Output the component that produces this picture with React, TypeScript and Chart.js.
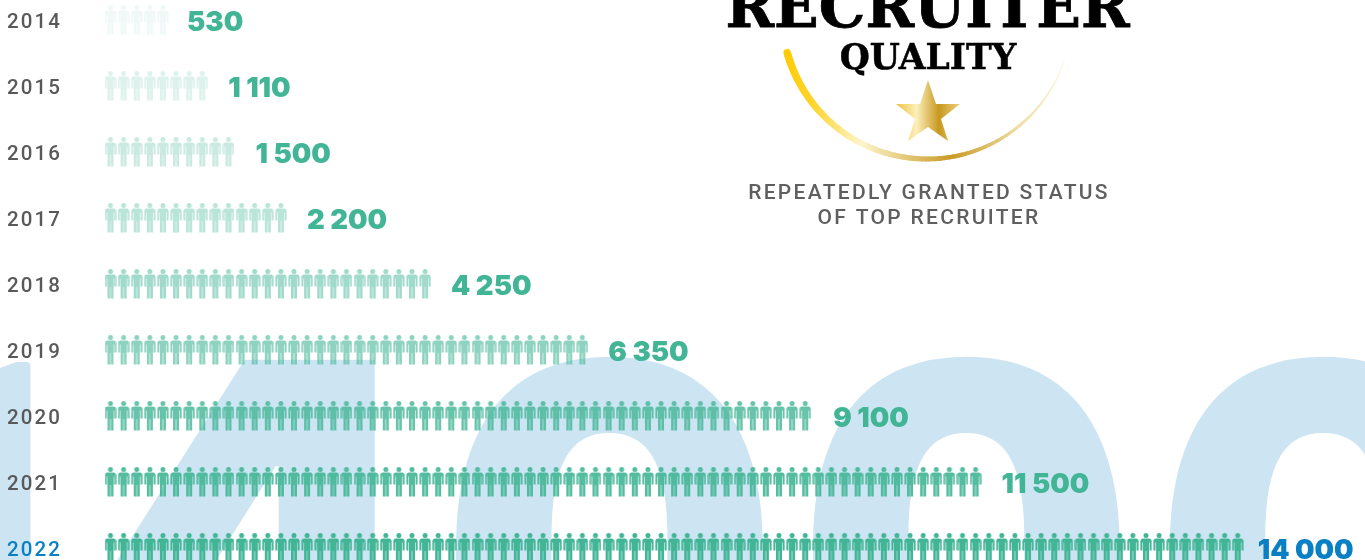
import React, { useEffect, useRef } from "react";
import { Chart, registerables } from "chart.js";

Chart.register(...registerables);

const years = ["2014", "2015", "2016", "2017", "2018", "2019", "2020", "2021", "2022"];
const hires = [530, 1110, 1500, 2200, 4250, 6350, 9100, 11500, 14000];
const iconCounts = [5, 8, 10, 14, 25, 37, 54, 67, 87];
const rowAlpha = [0.08, 0.18, 0.28, 0.37, 0.5, 0.6, 0.8, 0.9, 1];
const labelGaps = [18, 20, 21, 20, 20, 20, 22, 20, 14];

const GREEN = "65,181,149";
const BLUE = "#0a80c4";
const GREY = "#595959";
const WASH = "#cde5f3";

function personIcon(color: string): HTMLCanvasElement {
  const c = document.createElement("canvas");
  c.width = 12;
  c.height = 35; // icon sits in the top 30px, so it centres 2.5px above the row
  const g = c.getContext("2d")!;
  g.fillStyle = color;
  g.beginPath();
  g.arc(6, 2.6, 2.5, 0, Math.PI * 2);
  g.moveTo(6, 5);
  g.roundRect(0.4, 5.4, 11.2, 4, [2.6, 2.6, 0, 0]);
  g.rect(3, 9, 6, 9);
  g.roundRect(0.4, 9, 2, 8.6, [0, 0, 0.4, 0.4]);
  g.roundRect(9.6, 9, 2, 8.6, [0, 0, 0.4, 0.4]);
  g.rect(3, 17.5, 2.7, 12);
  g.rect(6.3, 17.5, 2.7, 12);
  g.fill();
  return c;
}

const formatValue = (v: number) => String(v).replace(/\B(?=(\d{3})+$)/g, " ");

function washText(ctx: any, text: string, font: string, x: number, y: number, stroke: number) {
  ctx.font = font;
  ctx.lineWidth = stroke;
  ctx.fillText(text, x, y);
  if (stroke > 0) ctx.strokeText(text, x, y);
}

const backdropPlugin = {
  id: "backdrop",
  beforeDraw(chart: any) {
    const ctx = chart.ctx;
    ctx.save();
    ctx.fillStyle = WASH;
    ctx.strokeStyle = WASH;
    ctx.lineJoin = "round";
    ctx.textAlign = "left";
    ctx.textBaseline = "alphabetic";
    const total = formatValue(hires[hires.length - 1]);
    washText(ctx, total.charAt(0), "700 622px Roboto", -217, 809, 8);
    washText(ctx, total.charAt(1), "900 520px Inter", 71, 738, 0);
    washText(ctx, total.slice(3), "700 622px Roboto", 431, 809, 8);
    ctx.restore();
    ctx.letterSpacing = "2.1px";
  },
};

const badgePlugin = {
  id: "badge",
  afterDraw(chart: any) {
    const ctx = chart.ctx;
    ctx.save();
    ctx.letterSpacing = "0px";
    ctx.fillStyle = "#000";
    ctx.strokeStyle = "#000";
    ctx.textAlign = "center";
    ctx.textBaseline = "alphabetic";
    ctx.font = "700 58.6px 'DejaVu Serif'";
    ctx.lineWidth = 0.8;
    ctx.fillText("RECRUITER", 927.5, 27);
    ctx.strokeText("RECRUITER", 927.5, 27);
    ctx.font = "700 34.5px 'DejaVu Serif'";
    ctx.lineWidth = 0.5;
    ctx.fillText("QUALITY", 928, 69);
    ctx.strokeText("QUALITY", 928, 69);

    // gold swoosh
    const arcGrad = ctx.createLinearGradient(785, 0, 1068, 0);
    arcGrad.addColorStop(0, "#ffcb05");
    arcGrad.addColorStop(0.1, "#fed52f");
    arcGrad.addColorStop(0.27, "#fdf5cc");
    arcGrad.addColorStop(0.59, "#c99a25");
    arcGrad.addColorStop(0.82, "#efdca0");
    arcGrad.addColorStop(1, "#fdf9ec");
    ctx.strokeStyle = arcGrad;
    ctx.lineCap = "round";
    const cx = 927, cy = 14, r = 145;
    const a0 = Math.PI - 0.27, a1 = 0.33;
    const steps = 120;
    for (let i = 0; i < steps; i++) {
      const t = i / steps;
      const a = a0 + (a1 - a0) * t;
      const b = a0 + (a1 - a0) * (t + 1 / steps);
      ctx.lineWidth = t < 0.5 ? 7.5 - 5 * t : 5 - 8 * (t - 0.5);
      ctx.beginPath();
      ctx.moveTo(cx + r * Math.cos(a), cy + r * Math.sin(a));
      ctx.lineTo(cx + r * Math.cos(b), cy + r * Math.sin(b));
      ctx.stroke();
    }

    // star
    const starGrad = ctx.createLinearGradient(896, 0, 960, 0);
    starGrad.addColorStop(0, "#edc13c");
    starGrad.addColorStop(0.32, "#fcf0ba");
    starGrad.addColorStop(0.67, "#c7981f");
    starGrad.addColorStop(1, "#ecd27e");
    ctx.fillStyle = starGrad;
    ctx.beginPath();
    ctx.moveTo(928, 80);
    ctx.lineTo(936, 104);
    ctx.lineTo(960, 104);
    ctx.lineTo(941, 119);
    ctx.lineTo(948, 141);
    ctx.lineTo(928, 127);
    ctx.lineTo(908, 141);
    ctx.lineTo(915, 119);
    ctx.lineTo(896, 104);
    ctx.lineTo(920, 104);
    ctx.closePath();
    ctx.fill();

    // caption
    ctx.fillStyle = "#5f5f5f";
    ctx.font = "500 21px Roboto";
    ctx.letterSpacing = "2.3px";
    ctx.fillText("REPEATEDLY GRANTED STATUS", 929, 199);
    ctx.fillText("OF TOP RECRUITER", 929, 224);
    ctx.restore();
  },
};

const valueLabelPlugin = {
  id: "valueLabels",
  afterDatasetsDraw(chart: any) {
    const ctx = chart.ctx;
    ctx.save();
    ctx.letterSpacing = "0px";
    ctx.textAlign = "left";
    ctx.textBaseline = "middle";
    ctx.font = "900 27.5px Inter";
    hires.forEach((v, i) => {
      const pts = chart.getDatasetMeta(i).data;
      const last = pts[pts.length - 1];
      ctx.fillStyle = i === hires.length - 1 ? BLUE : `rgb(${GREEN})`;
      ctx.fillText(formatValue(v), last.x + 6 + labelGaps[i], last.y);
    });
    ctx.restore();
  },
};

export default function App() {
  const ref = useRef<HTMLCanvasElement>(null);
  useEffect(() => {
    document.body.style.margin = "0";
    const datasets = years.map((year, i) => ({
      label: year,
      data: Array.from({ length: iconCounts[i] }, (_, k) => ({ x: k, y: year })),
      pointStyle: personIcon(`rgba(${GREEN},${rowAlpha[i]})`),
      pointRadius: 6,
      clip: false as const,
    }));
    const chart = new Chart(ref.current!, {
      type: "scatter",
      data: { datasets },
      plugins: [backdropPlugin, valueLabelPlugin, badgePlugin],
      options: {
        animation: false,
        responsive: false,
        layout: { padding: { left: 7, top: 22.5, bottom: 9.5, right: 9.3 } },
        plugins: { legend: { display: false }, tooltip: { enabled: false } },
        scales: {
          x: { type: "linear", display: false, min: 0, max: 95 },
          y: {
            type: "category",
            labels: years,
            grid: { display: false },
            border: { display: false },
            afterFit: (s: any) => { s.width = 103.5; },
            ticks: {
              autoSkip: false,
              crossAlign: "far",
              padding: 0,
              color: (c: any) => (c.index === years.length - 1 ? BLUE : GREY),
              font: { family: "Roboto", size: 20.5, weight: "500", lineHeight: 0.9 },
            },
          },
        },
      },
    } as any);
    return () => chart.destroy();
  }, []);
  return (
    <div style={{ position: "relative", width: 1365, height: 560, overflow: "hidden", background: "#fff" }}>
      <canvas ref={ref} width={1365} height={560} style={{ display: "block" }} />
    </div>
  );
}
